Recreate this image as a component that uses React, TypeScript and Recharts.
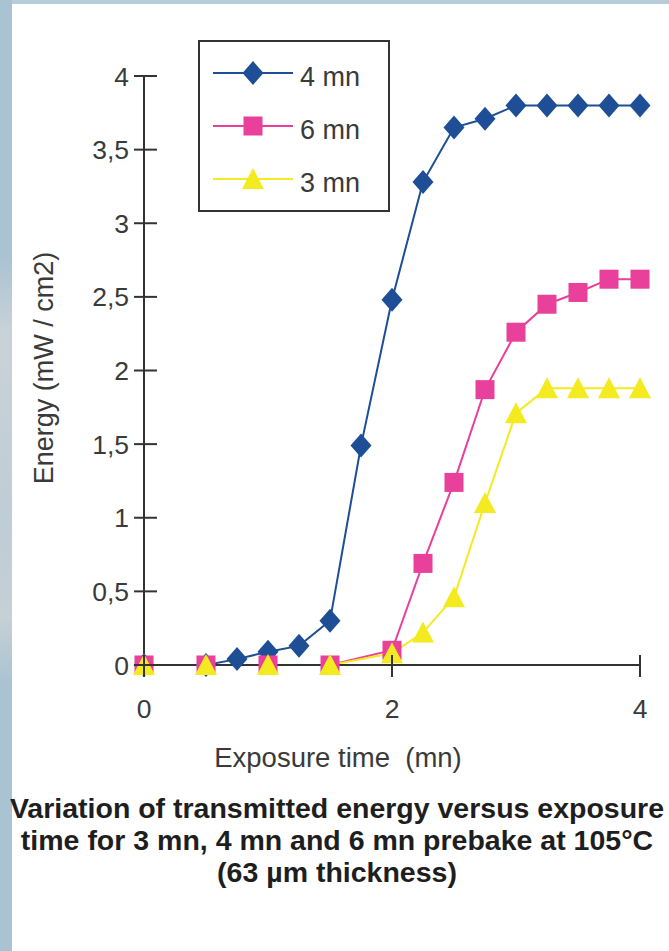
import { LineChart, Line, XAxis, YAxis, Legend } from 'recharts';

// exposure time (mn) for each prebake series
const times4 = [0, 0.5, 0.75, 1, 1.25, 1.5, 1.75, 2, 2.25, 2.5, 2.75, 3, 3.25, 3.5, 3.75, 4];
const energy4 = [0, 0, 0.04, 0.09, 0.13, 0.3, 1.49, 2.48, 3.28, 3.65, 3.71, 3.8, 3.8, 3.8, 3.8, 3.8];

const times6 = [0, 0.5, 1, 1.5, 2, 2.25, 2.5, 2.75, 3, 3.25, 3.5, 3.75, 4];
const energy6 = [0, 0, 0, 0, 0.1, 0.69, 1.24, 1.87, 2.26, 2.45, 2.53, 2.62, 2.62];

const times3 = [0, 0.5, 1, 1.5, 2, 2.25, 2.5, 2.75, 3, 3.25, 3.5, 3.75, 4];
const energy3 = [0, 0, 0, 0, 0.08, 0.22, 0.46, 1.1, 1.71, 1.88, 1.88, 1.88, 1.88];

const seriesOrder = ['4 mn', '6 mn', '3 mn'];
const xTicks = [0, 2, 4];
const yTicks = [0, 0.5, 1, 1.5, 2, 2.5, 3, 3.5, 4];

const BLUE = '#1d4e96';
const PINK = '#e8409b';
const YELLOW = '#f3ea1f';
const AXIS = '#333';
const FONT = "'Liberation Sans', Arial, Helvetica, sans-serif";

const toRows = (xs: number[], ys: number[]) => xs.map((t, i) => ({ t, e: ys[i] }));

const diamond = (cx: number, cy: number, fill: string, key?: any) => (
  <path key={key} d={`M${cx},${cy - 12} L${cx + 10.5},${cy} L${cx},${cy + 12} L${cx - 10.5},${cy} Z`} fill={fill} />
);
const square = (cx: number, cy: number, fill: string, key?: any) => (
  <rect key={key} x={cx - 9.5} y={cy - 9.5} width={19} height={19} fill={fill} />
);
const triangle = (cx: number, cy: number, fill: string, key?: any) => (
  <path key={key} d={`M${cx},${cy - 11} L${cx + 11},${cy + 10} L${cx - 11},${cy + 10} Z`} fill={fill} />
);

const shapes: Record<string, any> = { '4 mn': diamond, '6 mn': square, '3 mn': triangle };

const YTick = (props: any) => {
  const { x, y, payload } = props;
  return (
    <g>
      <line x1={x - 10} x2={x + 13} y1={y} y2={y} stroke={AXIS} strokeWidth={2} />
      <text x={x - 15} y={y} dy="0.36em" textAnchor="end" fontSize={26.5} fill="#3a3a3a" fontFamily={FONT}>
        {String(payload.value).replace('.', ',')}
      </text>
    </g>
  );
};

const XTick = (props: any) => {
  const { x, y, payload } = props;
  return (
    <g>
      <line x1={x} x2={x} y1={y - 10} y2={y + 12} stroke={AXIS} strokeWidth={2} />
      <text x={x} y={y + 43} dy="0.36em" textAnchor="middle" fontSize={26.5} fill="#3a3a3a" fontFamily={FONT}>
        {payload.value}
      </text>
    </g>
  );
};

const LegendBox = (props: any) => {
  const items = [...(props.payload || [])].sort(
    (a: any, b: any) => seriesOrder.indexOf(a.value) - seriesOrder.indexOf(b.value)
  );
  return (
    <div style={{ width: 192, height: 172, border: `2px solid ${AXIS}`, boxSizing: 'border-box', position: 'relative', background: '#fff' }}>
      {items.map((it: any, i: number) => (
        <div key={it.value} style={{ position: 'absolute', left: 13, top: 16 + i * 53, height: 30, display: 'flex', alignItems: 'center' }}>
          <svg width={80} height={30}>
            <line x1={0} x2={80} y1={15} y2={15} stroke={it.color} strokeWidth={2} />
            {shapes[it.value](40, 15, it.color)}
          </svg>
          <span style={{ marginLeft: 7, fontSize: 27, color: '#3a3a3a', fontFamily: FONT, lineHeight: '30px', position: 'relative', top: 4 }}>{it.value}</span>
        </div>
      ))}
    </div>
  );
};

export default function App() {
  const dotFor = (name: string, fill: string) => (p: any) => shapes[name](p.cx, p.cy, fill, `${name}-${p.index}`);

  return (
    <div style={{ position: 'absolute', left: 0, top: 0, width: 669, height: 951, background: '#fff', overflow: 'hidden', fontFamily: FONT }}>
      <div style={{ position: 'absolute', left: 0, top: 0, width: 669, height: 4, background: '#b6ccd9' }} />
      <div
        style={{
          position: 'absolute', left: 0, top: 0, width: 12, height: 951,
          background: 'linear-gradient(to bottom, #a9c3d3 0%, #a9c3d3 27%, #c9d2d7 35%, #bfcdd6 55%, #c6d0d5 65%, #a9c3d3 72%, #a9c3d3 100%)',
        }}
      />

      <div style={{ position: 'absolute', left: 0, top: 0 }}>
        <LineChart width={669} height={780} margin={{ top: 76, right: 29, bottom: 55, left: 0 }}>
          <XAxis
            dataKey="t"
            type="number"
            domain={[0, 4]}
            ticks={xTicks}
            allowDuplicatedCategory={false}
            height={60}
            stroke={AXIS}
            strokeWidth={2}
            tickSize={0}
            tickMargin={0}
            tickLine={false}
            tick={XTick}
          />
          <YAxis
            type="number"
            domain={[0, 4]}
            ticks={yTicks}
            width={144}
            stroke={AXIS}
            strokeWidth={2}
            tickSize={0}
            tickMargin={0}
            tickLine={false}
            tick={YTick}
          />
          <Legend
            layout="vertical"
            align="center"
            verticalAlign="middle"
            wrapperStyle={{ left: 198, top: 40, width: 192, height: 172 }}
            content={LegendBox}
          />
          <Line data={toRows(times4, energy4)} dataKey="e" name="4 mn" stroke={BLUE} strokeWidth={2} dot={dotFor('4 mn', BLUE)} activeDot={false} isAnimationActive={false} />
          <Line data={toRows(times6, energy6)} dataKey="e" name="6 mn" stroke={PINK} strokeWidth={2} dot={dotFor('6 mn', PINK)} activeDot={false} isAnimationActive={false} />
          <Line data={toRows(times3, energy3)} dataKey="e" name="3 mn" stroke={YELLOW} strokeWidth={2} dot={dotFor('3 mn', YELLOW)} activeDot={false} isAnimationActive={false} />
        </LineChart>
      </div>

      <div style={{ position: 'absolute', left: 44, top: 368, transform: 'translate(-50%, -50%) rotate(-90deg)', whiteSpace: 'nowrap', fontSize: 27, color: '#3a3a3a' }}>
        Energy (mW / cm2)
      </div>
      <div style={{ position: 'absolute', left: 338, top: 758, transform: 'translate(-50%, -50%)', whiteSpace: 'pre', fontSize: 27.5, color: '#3a3a3a' }}>
        {'Exposure time  (mn)'}
      </div>

      <div style={{ position: 'absolute', left: 0, top: 792, width: 674, textAlign: 'center', fontSize: 28.5, fontWeight: 'bold', lineHeight: '32px', color: '#1e1e1e' }}>
        <div>Variation of transmitted energy versus exposure</div>
        <div>time for 3 mn, 4 mn and 6 mn prebake at 105°C</div>
        <div>(63 µm thickness)</div>
      </div>
    </div>
  );
}
